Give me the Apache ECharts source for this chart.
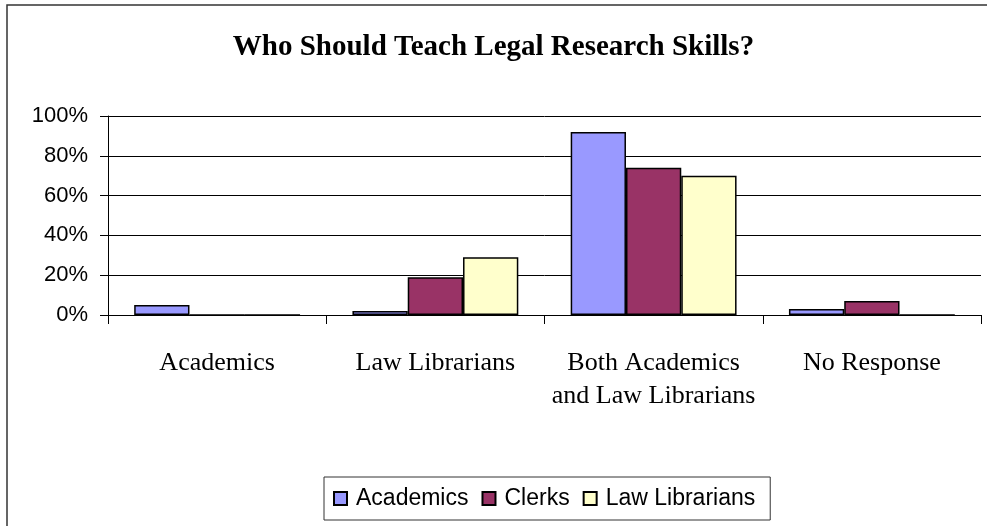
<!DOCTYPE html>
<html>
<head>
<meta charset="utf-8">
<title>Who Should Teach Legal Research Skills?</title>
<script src="https://cdn.jsdelivr.net/npm/echarts@6/dist/echarts.min.js"></script>
<style>
  html, body { margin: 0; padding: 0; background: #fff; }
  #chart { width: 987px; height: 526px; }
</style>
</head>
<body>
<div id="chart"></div>
<script>
// Survey responses (percent of each group)
const categories = ['Academics', 'Law Librarians', 'Both Academics\nand Law Librarians', 'No Response'];
const academics = [5, 2, 92, 3];
const clerks = [0, 19, 74, 7];
const lawLibrarians = [0, 29, 70, 0];
const yTicks = { min: 0, max: 100, interval: 20 };

const seriesColors = ['#9999FF', '#993366', '#FFFFCC'];

const chart = echarts.init(document.getElementById('chart'), null, { renderer: 'canvas' });

const barStyle = (color) => ({
  color: color,
  borderColor: '#000',
  borderWidth: 1.5
});

chart.setOption({
  animation: false,
  backgroundColor: '#fff',
  title: {
    text: 'Who Should Teach Legal Research Skills?',
    left: 'center',
    top: 28,
    textStyle: {
      fontFamily: '"Liberation Serif", "Times New Roman", serif',
      fontWeight: 'bold',
      fontSize: 29,
      color: '#000'
    }
  },
  graphic: [{
    type: 'rect',
    shape: { x: 7, y: 5, width: 1000, height: 600 },
    style: { fill: 'none', stroke: '#333', lineWidth: 1.5 },
    silent: true
  }],
  legend: {
    left: 324,
    top: 477,
    padding: [10, 15, 10, 9],
    borderColor: '#333',
    borderWidth: 1,
    itemWidth: 13,
    itemHeight: 13,
    itemGap: 13,
    icon: 'rect',
    textStyle: {
      fontFamily: '"Liberation Sans", Arial, sans-serif',
      fontSize: 23,
      color: '#000',
      padding: [0, 0, 0, 4]
    },
    data: ['Academics', 'Clerks', 'Law Librarians']
  },
  grid: {
    left: 108,
    right: 6,
    top: 116,
    bottom: 211,
    containLabel: false
  },
  xAxis: {
    type: 'category',
    data: categories,
    axisLine: { show: true, lineStyle: { color: '#000', width: 1 } },
    axisTick: { show: true, length: 9, alignWithLabel: false, lineStyle: { color: '#000' } },
    axisLabel: {
      interval: 0,
      margin: 32,
      fontFamily: '"Liberation Serif", "Times New Roman", serif',
      fontSize: 26,
      lineHeight: 33,
      color: '#000'
    }
  },
  yAxis: {
    type: 'value',
    min: yTicks.min,
    max: yTicks.max,
    interval: yTicks.interval,
    axisLine: { show: true, lineStyle: { color: '#000', width: 1 } },
    axisTick: { show: true, length: 8, lineStyle: { color: '#000' } },
    splitLine: { show: true, lineStyle: { color: '#000', width: 1 } },
    axisLabel: {
      margin: 20,
      formatter: '{value}%',
      fontFamily: '"Liberation Sans", Arial, sans-serif',
      fontSize: 22,
      color: '#000'
    }
  },
  series: [
    {
      name: 'Academics',
      type: 'bar',
      data: academics,
      barGap: '0%',
      barCategoryGap: '24%',
      itemStyle: barStyle(seriesColors[0])
    },
    {
      name: 'Clerks',
      type: 'bar',
      data: clerks,
      itemStyle: barStyle(seriesColors[1])
    },
    {
      name: 'Law Librarians',
      type: 'bar',
      data: lawLibrarians,
      itemStyle: barStyle(seriesColors[2])
    }
  ]
});
</script>
</body>
</html>
